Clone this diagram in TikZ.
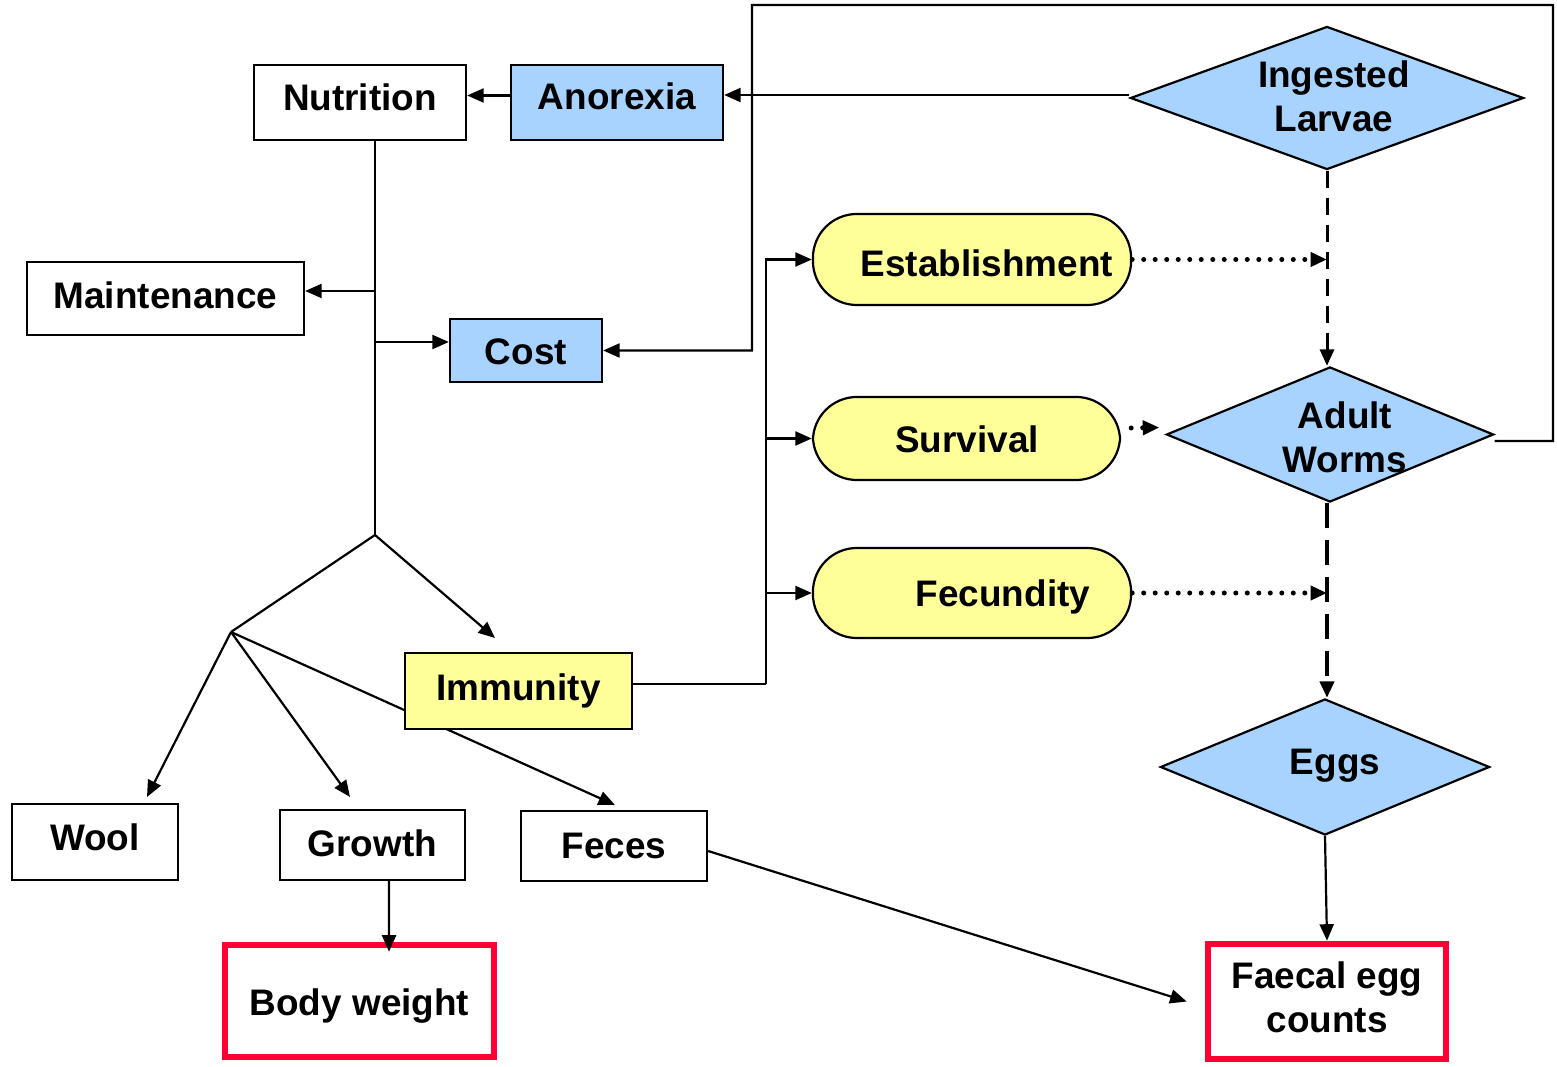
\documentclass[tikz,border=0pt]{standalone}
\usepackage{fontspec}
\setmainfont{Liberation Sans}
\usetikzlibrary{arrows.meta,shapes.geometric,calc}
\definecolor{lblue}{HTML}{A8D3FF}
\definecolor{lyellow}{HTML}{FFFF99}
\definecolor{boxred}{HTML}{FF0033}
\newcommand\liftby[2]{\raisebox{#1}[\height][\depth]{#2}}
\begin{document}
\begin{tikzpicture}[x=0.01cm,y=-0.01cm,
  font=\fontsize{10.5}{12.5}\selectfont\bfseries,
  every node/.style={inner sep=0pt},
  line width=0.022cm,
  box/.style={draw=black, line width=0.022cm, fill=white, align=center},
  bluebox/.style={box, fill=lblue},
  yelbox/.style={box, fill=lyellow},
  redbox/.style={draw=boxred, line width=0.065cm, fill=white, align=center},
  pill/.style={draw=black, line width=0.022cm, fill=lyellow, rectangle, rounded corners=0.44cm},
  dia/.style={draw=black, line width=0.022cm, fill=lblue, diamond},
  txt/.style={align=center},
  arr/.style={-{Triangle[length=0.165cm,width=0.14cm]}},
  dotarr/.style={-{Triangle[length=0.165cm,width=0.14cm]}, line width=0.05cm, line cap=round, dash pattern=on 0pt off 0.115cm},
  dasharr/.style={-{Triangle[length=0.165cm,width=0.14cm]}, line width=0.03cm, dash pattern=on 0.17cm off 0.1cm},
  dasharrB/.style={-{Triangle[length=0.165cm,width=0.14cm]}, line width=0.042cm, dash pattern=on 0.25cm off 0.12cm}
]
\useasboundingbox (0,0) rectangle (1557,1067);

% boxes
\node[box, minimum width=2.12cm, minimum height=0.75cm] (nut) at (360,102.5) {\liftby{0.05cm}{Nutrition}};
\node[bluebox, minimum width=2.12cm, minimum height=0.75cm] (ano) at (617,102.5) {\liftby{0.06cm}{Anorexia}};
\node[box, minimum width=2.77cm, minimum height=0.73cm] (mai) at (165.5,298.5) {\liftby{0.035cm}{Maintenance}};
\node[bluebox, minimum width=1.52cm, minimum height=0.63cm] (cost) at (526,350.5) {\liftby{-0.01cm}{Cost}};
\node[box, minimum width=1.66cm, minimum height=0.76cm] (wool) at (95,842) {\liftby{0.05cm}{Wool}};
\node[box, minimum width=1.85cm, minimum height=0.70cm] (gro) at (372.5,845) {\liftby{0.02cm}{Growth}};
\node[box, minimum width=1.86cm, minimum height=0.70cm] (fec) at (614,846) {Feces};
\node[redbox, minimum width=2.69cm, minimum height=1.12cm] (bw) at (359.5,1001) {\liftby{-0.05cm}{Body weight}};
\node[redbox, minimum width=2.38cm, minimum height=1.15cm] (fecc) at (1327,1001.5) {\liftby{0.045cm}{Faecal egg}\\\liftby{0.045cm}{counts}};

% pills
\node[pill, minimum width=3.18cm, minimum height=0.91cm] (est) at (972,259.5) {};
\node[txt] (estT) at (987,263) {Establishment};
\node[pill, minimum width=3.07cm, minimum height=0.83cm] (sur) at (966.5,438.5) {};
\node[txt] (surT) at (967,439) {Survival};
\node[pill, minimum width=3.18cm, minimum height=0.90cm] (fecu) at (972,593) {};
\node[txt] (fecuT) at (1003,597) {Fecundity};

% diamonds
\node[dia, minimum width=3.93cm, minimum height=1.43cm] (ing) at (1327,98) {};
\node[txt] (ingT) at (1334,96) {Ingested\\Larvae};
\node[dia, minimum width=3.27cm, minimum height=1.35cm] (adu) at (1330,434.5) {};
\node[txt] (aduT) at (1345,437) {Adult\\Worms};
\node[dia, minimum width=3.29cm, minimum height=1.36cm] (egg) at (1325,767) {};
\node[txt] (eggT) at (1335,766) {Eggs};

% coordinates
\coordinate (trunk) at (375,535);
\coordinate (jm) at (375,291);
\coordinate (jc) at (375,342);
\coordinate (br) at (231,632);
\coordinate (immIn) at (495,638);
\coordinate (woolIn) at (147,797);
\coordinate (groIn) at (350,797);
\coordinate (fecIn) at (615,805);
\coordinate (iv) at (766,684);
\coordinate (fbR) at (1553,441);
\coordinate (fbT) at (752,5);

% tree from Nutrition
\draw (nut.south -| trunk) -- (trunk);
\draw[arr] (jm) -- (mai.east |- jm);
\draw[arr] (jc) -- (cost.west |- jc);
\draw (trunk) -- (br);
\draw[arr] (trunk) -- (immIn);
\draw[arr] (br) -- (woolIn);
\draw[arr] (br) -- (groIn);
\draw[arr] (br) -- (fecIn);

% Immunity drawn over the Feces branch
\node[yelbox, minimum width=2.27cm, minimum height=0.76cm] (imm) at (518.5,691) {Immunity};

% top row
\draw[arr] ([yshift=0.07cm]ano.west) -- ([yshift=0.07cm]nut.east);
\draw[arr] ([yshift=0.03cm]ing.west) -- ([yshift=0.03cm]ano.east |- ing.west);

% feedback loop
\draw[arr] ([yshift=-0.065cm]adu.east) -- (fbR) |- (fbT) |- (cost.east);

% immunity to processes
\draw (imm.east |- iv) -- (iv);
\draw[arr] (iv) |- (est.west);
\draw[arr] (iv |- sur.west) -- (sur.west);
\draw[arr] (iv |- fecu.west) -- (fecu.west);

% worm life cycle
\draw[dasharr] (ing.south) -- (adu.north -| ing.south);
\draw[dasharrB] (adu.south -| ing.south) -- (egg.north -| ing.south);
\draw[dotarr] (est.east) -- (est.east -| ing.south);
\draw[dotarr] ([yshift=0.105cm,xshift=0.1cm]sur.east) -- ([xshift=-0.06cm,yshift=0.07cm]adu.west);
\draw[dotarr] (fecu.east) -- (fecu.east -| ing.south);
\draw[arr] (egg.south) -- (fecc.north);

% outputs
\draw[arr] ([xshift=0.165cm]gro.south) -- ([xshift=0.295cm,yshift=-0.1cm]bw.north);
\draw[arr] ([yshift=-0.05cm]fec.east) -- ([xshift=-0.18cm]fecc.west);
\end{tikzpicture}
\end{document}
